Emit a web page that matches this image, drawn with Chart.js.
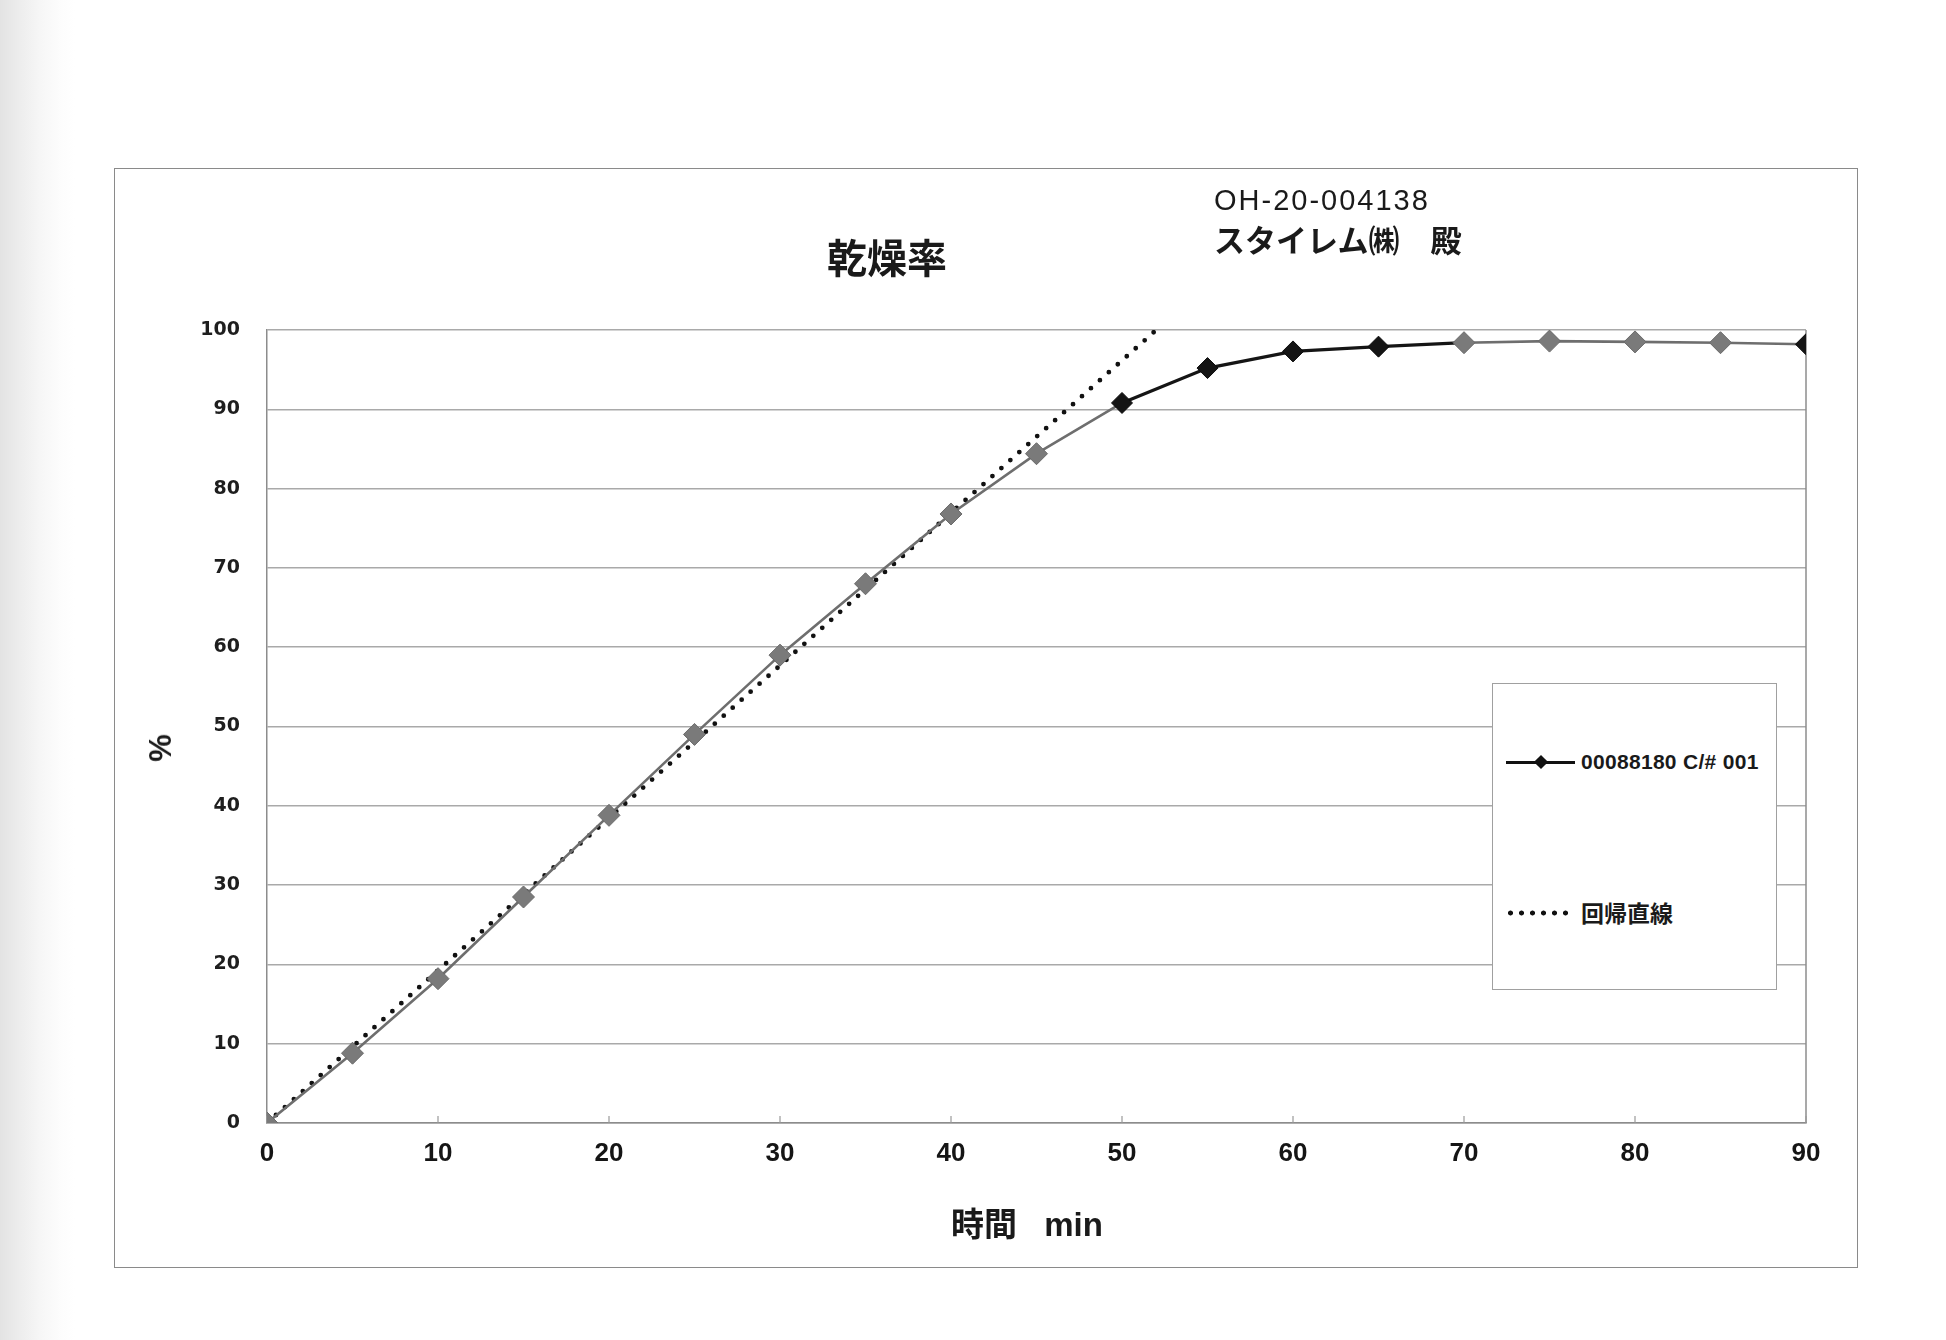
<!DOCTYPE html>
<html>
<head>
<meta charset="utf-8">
<script src="https://cdn.jsdelivr.net/npm/chart.js@4.4.1/dist/chart.umd.min.js"></script>
<style>
html,body{margin:0;padding:0;background:#fff;}
#wrap{position:relative;width:1946px;height:1340px;overflow:hidden;
  background:linear-gradient(to right,#e3e3e3 0px,#ececec 18px,#f6f6f6 40px,#fdfdfd 62px,#fff 75px);}
canvas{position:absolute;left:0;top:0;}
.t{position:absolute;white-space:nowrap;color:#1a1a1a;font-family:"Liberation Sans","Noto Sans CJK JP",sans-serif;}
#frame{position:absolute;left:114px;top:168px;width:1744px;height:1100px;border:1.5px solid #8a8a8a;box-sizing:border-box;}
#legend{position:absolute;left:1492px;top:683px;width:285px;height:307px;border:1.5px solid #a0a0a0;box-sizing:border-box;background:#fff;}
.lline{position:absolute;height:2.5px;background:#111;}
.ldia{position:absolute;width:10px;height:10px;background:#111;transform:translate(-50%,-50%) rotate(45deg);}
.ldots{position:absolute;height:6px;background-image:radial-gradient(circle,#111 2.2px,rgba(0,0,0,0) 2.8px);background-size:11px 6px;background-repeat:repeat-x;}
</style>
</head>
<body>
<div id="wrap">
  <div id="frame"></div>
  <canvas id="c" width="1946" height="1340"></canvas>
  <div id="legend"></div>
  <div class="t" id="title" style="left:887px;top:256px;transform:translate(-50%,-50%);font-size:40px;font-weight:bold;font-family:'Noto Sans CJK JP',sans-serif;"></div>
  <div class="t" id="info1" style="left:1214px;top:200px;transform:translateY(-50%);font-size:29px;letter-spacing:2px;"></div>
  <div class="t" id="info2" style="left:1214px;top:238px;transform:translateY(-50%);font-size:31px;font-family:'Noto Sans CJK JP',sans-serif;font-weight:bold;"></div>
  <div class="t" id="ytitle" style="left:161px;top:748px;transform:translate(-50%,-50%) rotate(-90deg);font-size:31px;font-weight:bold;"></div>
  <div class="t" id="xtitle" style="left:1027px;top:1222px;transform:translate(-50%,-50%);font-size:33px;font-weight:bold;word-spacing:18px;"></div>
</div>
<script>
// ---- data ----
const times = [0, 5, 10, 15, 20, 25, 30, 35, 40, 45, 50, 55, 60, 65, 70, 75, 80, 85, 90];
const dryingRate = [0, 8.8, 18.2, 28.5, 38.8, 49.0, 59.0, 68.0, 76.8, 84.4, 90.8, 95.2, 97.3, 97.9, 98.4, 98.6, 98.5, 98.4, 98.2];
const regressionX = [0, 52];
const regressionY = [0, 100];
const seriesNames = ["00088180 C/# 001", "回帰直線"];
const xTicks = [0, 10, 20, 30, 40, 50, 60, 70, 80, 90];
const yTicks = [0, 10, 20, 30, 40, 50, 60, 70, 80, 90, 100];
const chartTitle = "乾燥率";
const infoLines = ["OH-20-004138", "スタイレム㈱　殿"];
const xAxisTitle = "時間 min";
const yAxisTitle = "%";

// ---- texts ----
document.getElementById('title').textContent = chartTitle;
document.getElementById('info1').textContent = infoLines[0];
document.getElementById('info2').textContent = infoLines[1];
document.getElementById('xtitle').textContent = xAxisTitle;
document.getElementById('ytitle').textContent = yAxisTitle;

// ---- legend ----
const lg = document.getElementById('legend');
function el(cls, css, txt){const d=document.createElement('div');d.className=cls;d.style.cssText=css;if(txt)d.textContent=txt;lg.appendChild(d);return d;}
el('lline','left:13px;top:77px;width:69px;');
el('ldia','left:48px;top:78px;');
el('t','left:88px;top:78px;transform:translateY(-50%);font-size:21px;font-weight:bold;letter-spacing:0.3px;',seriesNames[0]);
el('ldots','left:12px;top:226px;width:66px;');
el('t','left:88px;top:228px;transform:translateY(-50%);font-size:23px;font-weight:bold;font-family:"Noto Sans CJK JP",sans-serif;',seriesNames[1]);

// ---- chart ----
const blackIdx = new Set([10, 11, 12, 13, 18]);
const ptColor = times.map((t,i)=> blackIdx.has(i) ? '#141414' : '#7a7a7a');
const ptBorder = times.map((t,i)=> blackIdx.has(i) ? '#0a0a0a' : '#6a6a6a');
const ptRadius = times.map((t,i)=> blackIdx.has(i) ? 10.5 : 11);

const extras = {
  id:'extras',
  beforeDatasetsDraw(chart){
    const {ctx, chartArea:a, scales:{x}} = chart;
    ctx.save();
    ctx.strokeStyle = '#8c8c8c';
    ctx.lineWidth = 1.5;
    ctx.beginPath();
    ctx.moveTo(a.right, a.top); ctx.lineTo(a.right, a.bottom);
    ctx.stroke();
    ctx.strokeStyle = '#999';
    ctx.lineWidth = 1.2;
    xTicks.forEach(v=>{
      const px = x.getPixelForValue(v);
      ctx.beginPath(); ctx.moveTo(px, a.bottom); ctx.lineTo(px, a.bottom-7); ctx.stroke();
    });
    ctx.restore();
  }
};

new Chart(document.getElementById('c').getContext('2d'), {
  type:'scatter',
  data:{datasets:[
    {
      label: seriesNames[0],
      data: times.map((t,i)=>({x:t, y:dryingRate[i]})),
      showLine:true,
      borderWidth:2.6,
      borderColor:'#6a6a6a',
      segment:{
        borderColor: c => (c.p0DataIndex>=10 && c.p0DataIndex<14) ? '#151515' : '#6e6e6e',
        borderWidth: c => (c.p0DataIndex>=10 && c.p0DataIndex<14) ? 3.2 : 2.6
      },
      pointStyle:'rectRot',
      pointRadius: ptRadius,
      pointBackgroundColor: ptColor,
      pointBorderColor: ptBorder,
      pointBorderWidth:1,
      order:0
    },
    {
      label: seriesNames[1],
      data: regressionX.map((x,i)=>({x:x, y:regressionY[i]})),
      showLine:true,
      borderColor:'#111',
      borderWidth:4.8,
      borderDash:[0, 12],
      borderCapStyle:'round',
      pointRadius:0,
      order:1
    }
  ]},
  options:{
    responsive:false,
    animation:false,
    layout:{padding:{left:0, right:140, top:330, bottom:0}},
    plugins:{legend:{display:false}, tooltip:{enabled:false}},
    scales:{
      x:{
        type:'linear', min:0, max:90,
        afterBuildTicks: s => { s.ticks = xTicks.map(v=>({value:v})); },
        ticks:{padding:15, color:'#151515', font:{family:'Liberation Sans', size:26, weight:'bold'}},
        grid:{drawOnChartArea:false, drawTicks:false},
        border:{color:'#8c8c8c', width:1.5},
        afterFit: s => { s.height = 217; }
      },
      y:{
        type:'linear', min:0, max:100,
        afterBuildTicks: s => { s.ticks = yTicks.map(v=>({value:v})); },
        ticks:{padding:27, color:'#1e1e1e', font:{family:'DejaVu Sans', size:19, weight:'bold'}},
        grid:{color:'#a9a9a9', lineWidth:1.5, drawTicks:false},
        border:{color:'#8c8c8c', width:1.5},
        afterFit: s => { s.width = 267; }
      }
    }
  },
  plugins:[extras]
});
</script>
</body>
</html>
